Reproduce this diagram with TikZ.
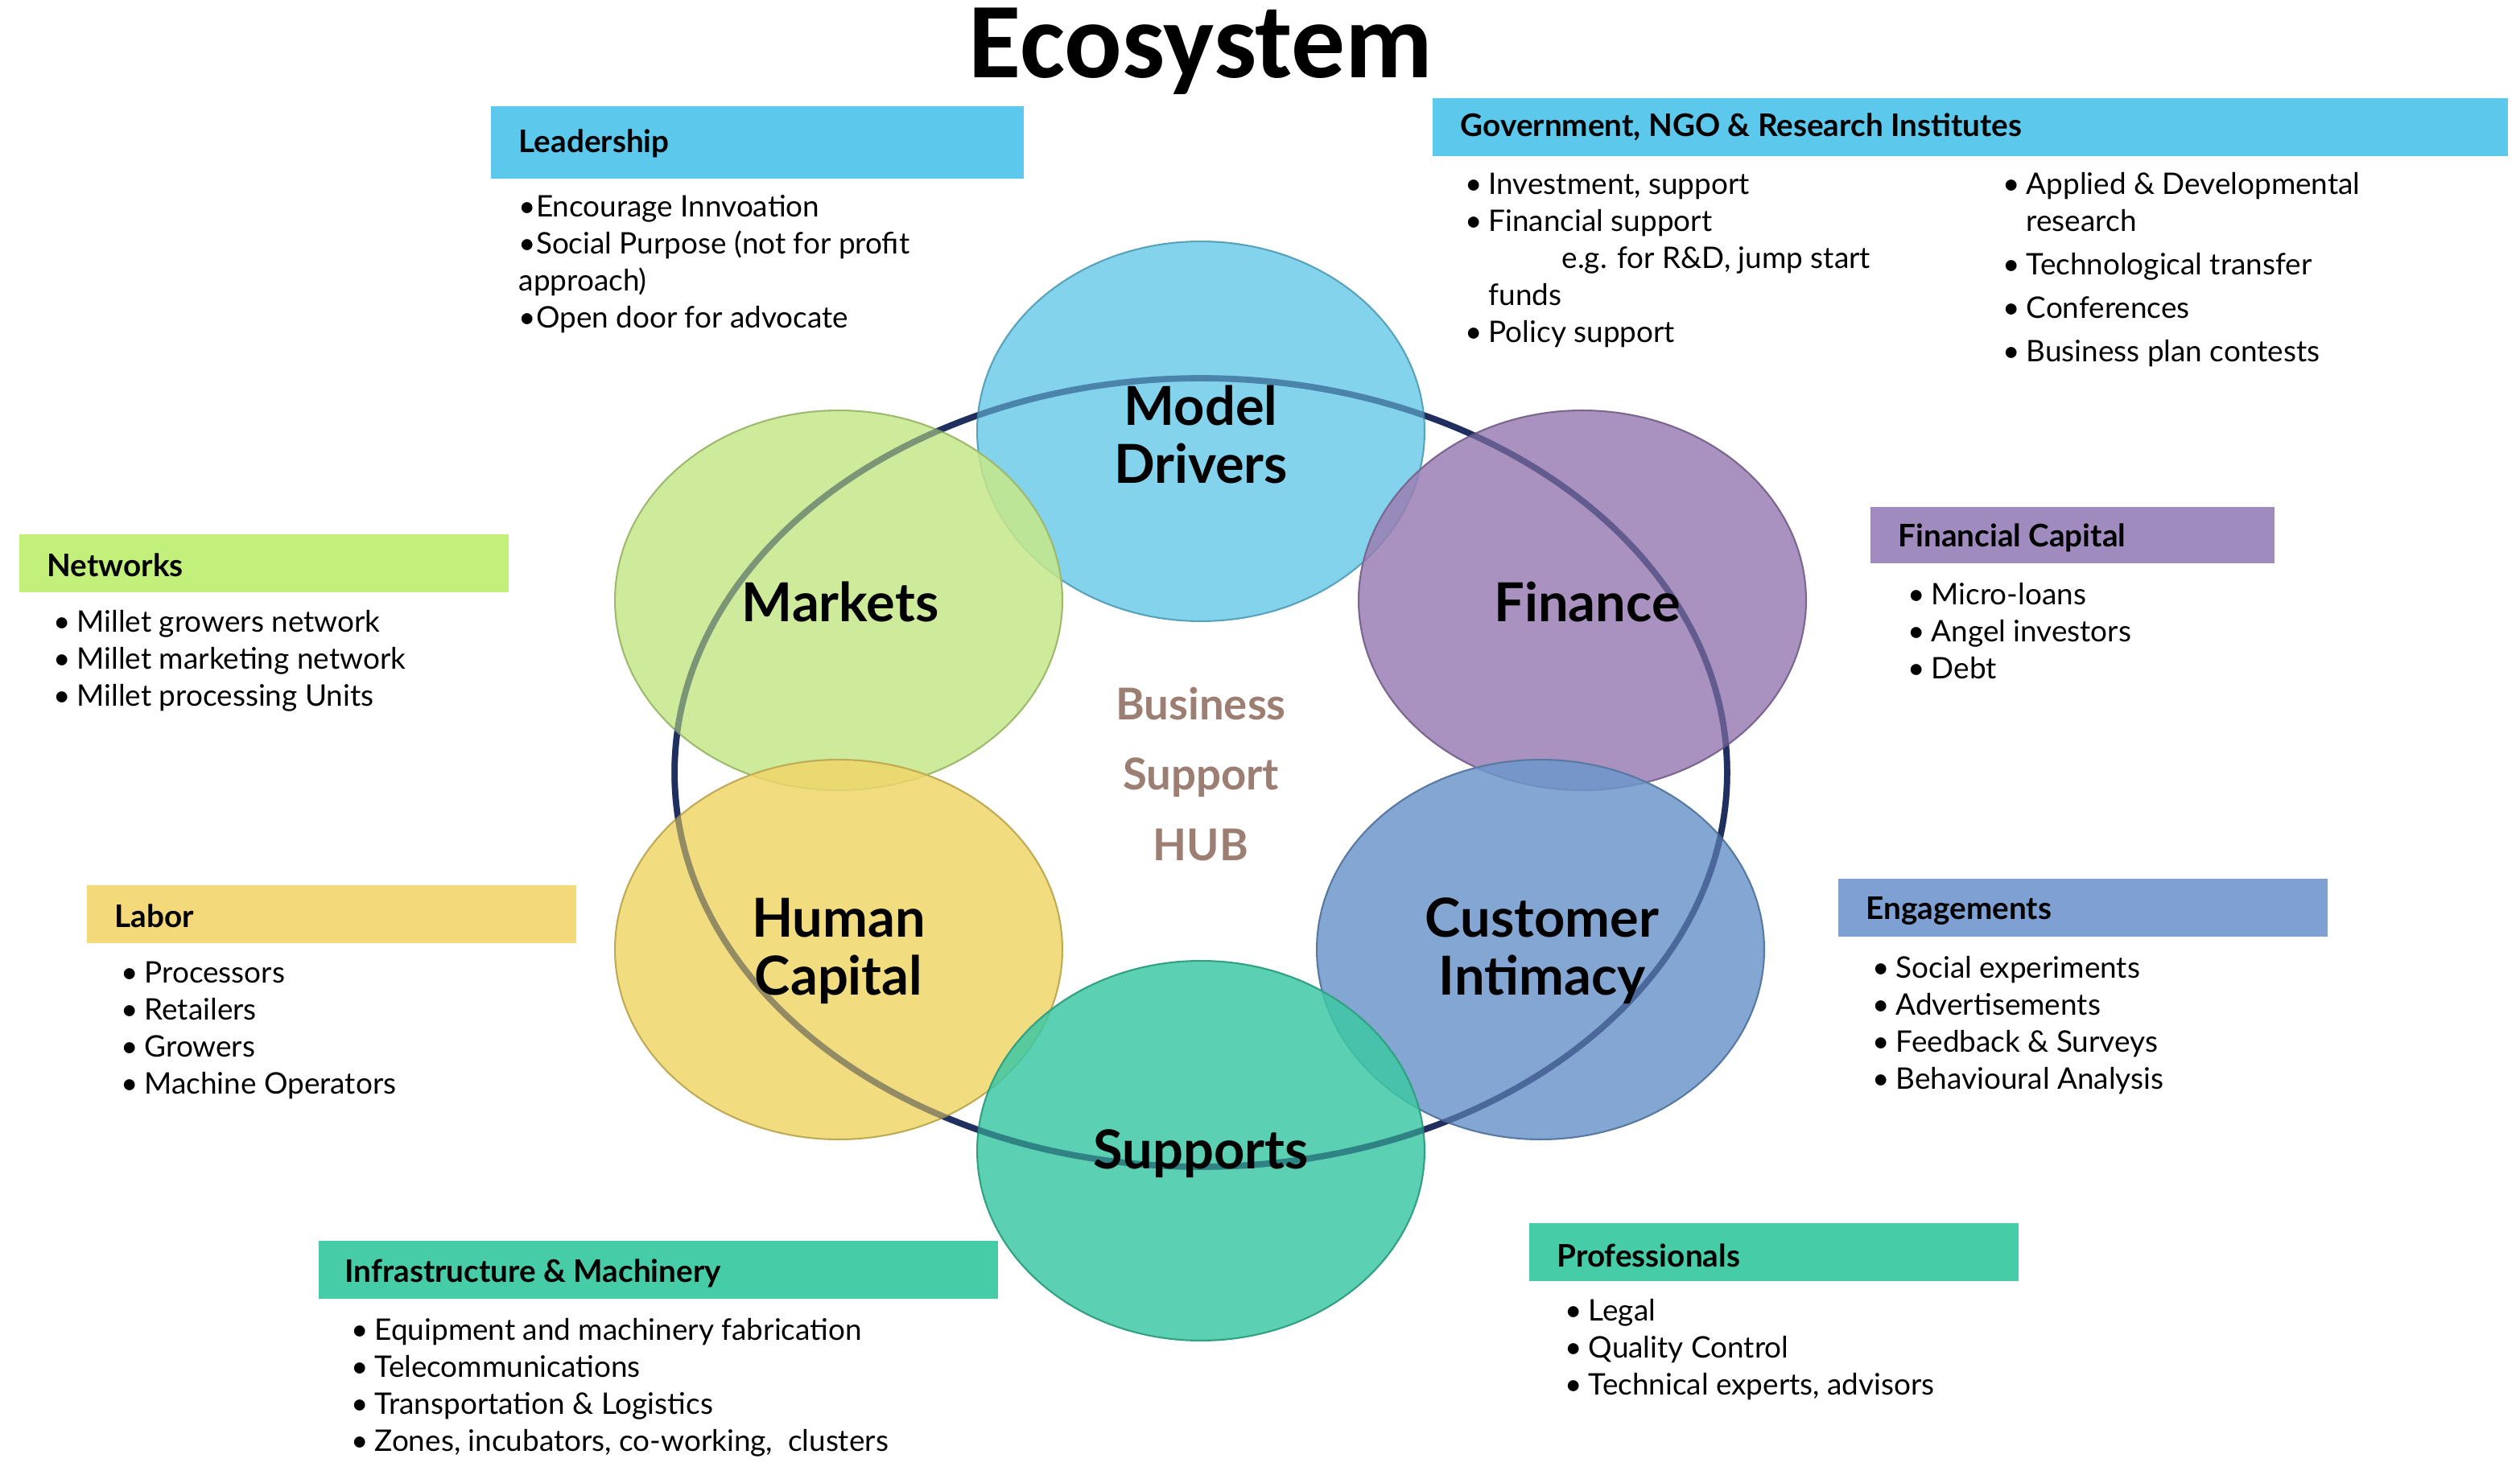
\documentclass[tikz,border=0pt]{standalone}
\usepackage{fontspec}
\setmainfont{Lato}
\newfontfamily\titlefont{Carlito}
\begin{document}
\newcommand{\bi}[1]{\makebox[0.29cm][l]{\textbullet}#1}
\begin{tikzpicture}[x=0.02cm,y=-0.02cm,
  hdr/.style={minimum height=0.72cm,inner sep=0pt},
  hdrtext/.style={anchor=west,inner sep=0pt,font=\fontsize{11}{13}\selectfont\bfseries},
  lst/.style={anchor=north west,inner sep=0pt,align=left,font=\fontsize{10.5}{13.1}\selectfont},
  bub/.style={ellipse,minimum width=5.56cm,minimum height=4.72cm,draw=#1!80!black,line width=0.6pt,fill=#1,fill opacity=0.85},
  blabel/.style={align=center,font=\fontsize{19}{20.5}\selectfont\bfseries},
  ]
\usetikzlibrary{shapes.geometric}
\useasboundingbox (0,0) rectangle (1565.5,916.5);
\definecolor{cSky}{HTML}{5BC8EC}
\definecolor{cGov}{HTML}{5CC9EC}
\definecolor{cPur}{HTML}{A08BBF}
\definecolor{cGrn}{HTML}{C3F07A}
\definecolor{cYel}{HTML}{F3D97A}
\definecolor{cBlu}{HTML}{7EA0D2}
\definecolor{cTeal}{HTML}{47CCA8}
\definecolor{bMD}{HTML}{6FCBEA}
\definecolor{bMk}{HTML}{C6E88A}
\definecolor{bFi}{HTML}{9A7FB4}
\definecolor{bHC}{HTML}{EFD66A}
\definecolor{bCI}{HTML}{6E97CB}
\definecolor{bSu}{HTML}{3EC8A4}
\definecolor{hub}{HTML}{9C7E72}
\definecolor{ring}{HTML}{1F2F5F}

\node[font=\titlefont\fontsize{38}{40}\selectfont\bfseries] (title) at (746,32) {Ecosystem};

% ring
\node[ellipse,draw=ring,line width=2.2pt,minimum width=13.08cm,minimum height=9.8cm] (ring) at (746,480) {};

% bubbles
\node[bub=bMD] (md) at (746,268) {};
\node[bub=bMk] (mk) at (521,373) {};
\node[bub=bFi] (fi) at (983,373) {};
\node[bub=bHC] (hc) at (521,590) {};
\node[bub=bCI] (ci) at (957,590) {};
\node[bub=bSu] (su) at (746,715) {};
\draw[ring,line width=2.2pt,opacity=0.35] (746,480) ellipse [x radius=327,y radius=245];

\node[blabel] at (746,270) {Model\\Drivers};
\node[blabel] at (522,374) {Markets};
\node[blabel] at (986,374) {Finance};
\node[blabel] at (521,591) {Human\\Capital};
\node[blabel] at (958,591) {Customer\\Intimacy};
\node[blabel] at (746,717) {Supports};
\node[align=center,text=hub,font=\fontsize{15.5}{25}\selectfont\bfseries] (hubt) at (746,481) {Business\\Support\\HUB};

% headers
\fill[cSky] (305,66) rectangle (636,111);
\node[hdrtext] at (322,89) {Leadership};
\fill[cGov] (890,61) rectangle (1558,97);
\node[hdrtext] at (907,79) {Government, NGO \& Research Institutes};
\fill[cPur] (1162,315) rectangle (1413,350);
\node[hdrtext] at (1179,334) {Financial Capital};
\fill[cGrn] (12,332) rectangle (316,368);
\node[hdrtext] at (29,351) {Networks};
\fill[cYel] (54,550) rectangle (358,586);
\node[hdrtext] at (71,569) {Labor};
\fill[cBlu] (1142,546) rectangle (1446,582);
\node[hdrtext] at (1159,566) {Engagements};
\fill[cTeal] (198,771) rectangle (620,807);
\node[hdrtext] at (214,791) {Infrastructure \& Machinery};
\fill[cTeal] (950,760) rectangle (1254,796);
\node[hdrtext] at (967,780) {Professionals};

% lists
\node[lst] (l1) at (322,121) {\textbullet Encourage Innvoation\\\textbullet Social Purpose (not for profit\\approach)\\\textbullet Open door for advocate};
\node[lst] (l2) at (910,107) {\bi{Investment, support}\\\bi{Financial support}\\\hspace{1.2cm}e.g. for R\&D, jump start\\\hspace{0.29cm}funds\\\bi{Policy support}};
\node[lst] (l3) at (1244,107) {\bi{Applied \& Developmental}\\\hspace{0.29cm}research\\[0.08cm]\bi{Technological transfer}\\[0.08cm]\bi{Conferences}\\[0.08cm]\bi{Business plan contests}};
\node[lst] (l4) at (1185,362) {\bi{Micro-loans}\\\bi{Angel investors}\\\bi{Debt}};
\node[lst] (l5) at (33,379) {\bi{Millet growers network}\\\bi{Millet marketing network}\\\bi{Millet processing Units}};
\node[lst] (l6) at (75,597) {\bi{Processors}\\\bi{Retailers}\\\bi{Growers}\\\bi{Machine Operators}};
\node[lst] (l7) at (1163,594) {\bi{Social experiments}\\\bi{Advertisements}\\\bi{Feedback \& Surveys}\\\bi{Behavioural Analysis}};
\node[lst] (l8) at (218,819) {\bi{Equipment and machinery fabrication}\\\bi{Telecommunications}\\\bi{Transportation \& Logistics}\\\bi{Zones, incubators, co-working,\ \ clusters}};
\node[lst] (l9) at (972,807) {\bi{Legal}\\\bi{Quality Control}\\\bi{Technical experts, advisors}};
\end{tikzpicture}
\end{document}
